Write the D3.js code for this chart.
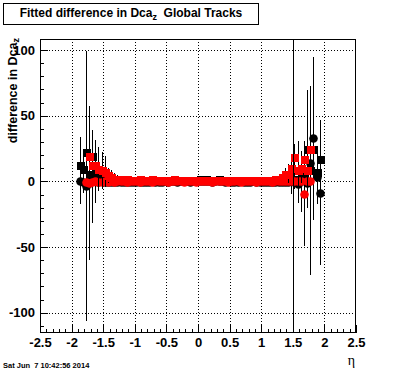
<!DOCTYPE html>
<html>
<head>
	<title>Fitted difference in Dca_z</title>
	<meta charset="utf-8">
	<script src="https://cdn.jsdelivr.net/npm/d3@7"></script>
	<style>
	body{
		margin: 0;
		background: #fff;
	}
	text{
		font-family: "Liberation Sans", Arial, sans-serif;
	}
	</style>
</head>
<body>
<svg id="chart" width="396" height="372"></svg>
<script>

// eta bin centres
var etaBins = [
	-1.875, -1.825, -1.775, -1.725, -1.675, -1.625, -1.575, -1.525, -1.475, -1.425,
	-1.375, -1.325, -1.275, -1.225, -1.175, -1.125, -1.075, -1.025, -0.975, -0.925,
	-0.875, -0.825, -0.775, -0.725, -0.675, -0.625, -0.575, -0.525, -0.475, -0.425,
	-0.375, -0.325, -0.275, -0.225, -0.175, -0.125, -0.075, -0.025, 0.025, 0.075,
	0.125, 0.175, 0.225, 0.275, 0.325, 0.375, 0.425, 0.475, 0.525, 0.575,
	0.625, 0.675, 0.725, 0.775, 0.825, 0.875, 0.925, 0.975, 1.025, 1.075,
	1.125, 1.175, 1.225, 1.275, 1.325, 1.375, 1.425, 1.475, 1.525, 1.575,
	1.625, 1.675, 1.725, 1.775, 1.825, 1.875, 1.925
];

// black squares
var blackSquare = [
	12.5, 9.5, 22.5, 6.0, 19.0, 7.5, 3.0, 2.5, 2.0, 1.8,
	1.6, 1.5, 1.4, 1.3, 1.4, 1.3, 1.2, 1.3, 1.4, 1.3,
	1.2, 1.3, 1.3, 1.2, 1.1, 1.2, 1.3, 1.2, 1.1, 1.2,
	1.2, 1.1, 1.2, 1.1, 1.0, 1.1, 1.2, 1.4, 1.5, 1.4,
	1.5, 1.4, 1.3, 1.4, 1.5, 1.3, 1.0, 0.9, 1.0, 0.9,
	0.8, 0.9, 0.9, 0.8, 0.9, 1.0, 0.9, 0.9, 1.0, 1.0,
	1.1, 1.2, 1.4, 1.6, 1.9, 2.2, 2.5, 2.0, 1.5, 2.0,
	3.0, 5.0, 24.5, 9.0, 24.5, 7.5, 17.0
];
var blackSquareErr = [
	21, 12, 10, 8, 12, 24, 6, 5, 4, 3,
	2.5, 2, 1.5, 1.2, 1, 1, 1, 1, 1, 1,
	1, 1, 1, 1, 1, 1, 1, 1, 1, 1,
	1, 1, 1, 1, 1, 1, 1, 1, 1, 1,
	1, 1, 1, 1, 1, 1, 1, 1, 1, 1,
	1, 1, 1, 1, 1, 1, 1, 1, 1, 1,
	1, 1, 1.5, 2, 2.5, 3, 4, 5, 6, 6,
	8, 10, 45, 12, 15, 12, 10
];

// black circles
var blackCircle = [
	0.0, -0.5, -3.5, -1.0, 3.5, 0.0, -0.5, 0.0, -0.3, -0.2,
	-0.3, -0.4, -0.5, -0.4, -0.3, -0.2, -0.3, -0.2, -0.1, -0.2,
	-0.1, -0.2, -0.1, 0.0, -0.1, -0.2, -0.1, 0.0, -0.1, 0.0,
	0.0, -0.1, 0.0, 0.1, 0.0, -0.1, 0.0, 0.1, 0.0, 0.0,
	0.1, 0.0, -0.1, 0.0, 0.1, 0.0, -0.1, 0.0, -0.1, -0.2,
	-0.1, 0.0, -0.1, -0.2, -0.1, 0.0, -0.1, -0.2, -0.2, -0.1,
	-0.2, -0.3, -0.2, -0.4, -0.3, -0.5, -0.2, 0.0, -0.4, -2.0,
	0.5, 1.0, -1.0, 14.0, 32.7, 3.0, -8.5
];
var blackCircleErr = [
	17, 8, 103, 58.6, 35.5, 6, 5, 4, 3, 2.5,
	2, 1.5, 1.2, 1, 1, 1, 1, 1, 1, 1,
	1, 1, 1, 1, 1, 1, 1, 1, 1, 1,
	1, 1, 1, 1, 1, 1, 1, 1, 1, 1,
	1, 1, 1, 1, 1, 1, 1, 1, 1, 1,
	1, 1, 1, 1, 1, 1, 1, 1, 1, 1,
	1, 1, 1.2, 1.5, 2, 2.5, 3, 4, 5, 14.5,
	8, 10, 15, 56, 62, 20, 55
];

// red squares
var redSquare = [
	null, null, null, 19.5, 12.5, 12.5, 9.5, 8.5, 7.5, 4.5,
	3.5, 2.2, 1.8, 1.6, 1.4, 1.5, 1.4, 1.3, 1.4, 1.5,
	1.4, 1.3, 1.4, 1.5, 1.4, 1.3, 1.4, 1.4, 1.3, 1.4,
	1.5, 1.4, 1.3, 1.4, 1.2, 1.0, 0.9, 0.8, 0.9, 0.8,
	0.9, 0.8, 0.7, 0.8, 0.9, 0.8, 0.7, 0.8, 0.7, 0.8,
	0.9, 0.8, 0.8, 0.7, 0.8, 0.9, 0.8, 0.9, 1.0, 1.1,
	1.2, 1.4, 1.6, 2.2, 3.7, 5.5, 6.0, 10.0, 18.3, 9.0,
	10.5, 17.0, 9.0, 24.5, null, null, null
];
var redSquareErr = [
	0, 0, 0, 6, 8, 8, 16.5, 14, 11.5, 6,
	5, 4, 3, 2, 1.5, 1.2, 1, 1, 1, 1,
	1, 1, 1, 1, 1, 1, 1, 1, 1, 1,
	1, 1, 1, 1, 1, 1, 1, 1, 1, 1,
	1, 1, 1, 1, 1, 1, 1, 1, 1, 1,
	1, 1, 1, 1, 1, 1, 1, 1, 1, 1,
	1, 1.2, 2, 2.5, 3, 5, 7, 8, 10, 22,
	12, 12, 14, 8, 0, 0, 0
];

// red circles
var redCircle = [
	null, null, -0.5, -1.0, -0.5, 0.0, -0.2, -0.1, 0.0, -0.1,
	0.0, -0.1, 0.0, 0.1, 0.0, -0.1, 0.0, 0.1, 0.0, -0.1,
	0.0, 0.1, 0.0, -0.1, 0.0, 0.0, 0.1, 0.0, -0.1, 0.0,
	0.1, 0.0, 0.0, -0.1, 0.0, 0.1, 0.0, -0.1, 0.0, 0.0,
	0.1, 0.0, -0.1, 0.0, 0.0, 0.1, 0.0, -0.1, 0.0, 0.1,
	0.0, -0.1, 0.0, 0.0, 0.1, 0.0, -0.1, 0.0, 0.0, 0.1,
	0.0, -0.1, 0.0, 0.1, 0.2, 0.0, 0.3, 0.5, 0.2, 0.0,
	0.0, -9.5, 0.5, 0.5, null, null, null
];
var redCircleErr = [
	0, 0, 5, 4, 3, 2.5, 2, 1.5, 1.5, 1.2,
	1, 1, 1, 1, 1, 1, 1, 1, 1, 1,
	1, 1, 1, 1, 1, 1, 1, 1, 1, 1,
	1, 1, 1, 1, 1, 1, 1, 1, 1, 1,
	1, 1, 1, 1, 1, 1, 1, 1, 1, 1,
	1, 1, 1, 1, 1, 1, 1, 1, 1, 1,
	0.8, 0.8, 1, 1.5, 2, 3, 4, 10, 6, 8,
	23.5, 40, 10, 72, 0, 0, 0
];

var xMajorTicks = [-2.5, -2, -1.5, -1, -0.5, 0, 0.5, 1, 1.5, 2, 2.5];
var yMajorTicks = [-100, -50, 0, 50, 100];
var cutEta = 1.5;

var titleText = "Fitted difference in Dca";
var yTitleText = "difference in Dca";
var dateText = "Sat Jun  7 10:42:56 2014";

var frame = {left: 40, right: 356, top: 39, bottom: 333};

var svg = d3.select("#chart");

var x = d3.scaleLinear().domain([-2.5, 2.5]).range([frame.left, frame.right]);
var y = d3.scaleLinear().domain([-115.4, 108.4]).range([frame.bottom, frame.top]);

svg.append("rect")
	.attr("width", 396)
	.attr("height", 372)
	.attr("fill", "#fff");

svg.append("clipPath")
	.attr("id", "frameClip")
	.append("rect")
	.attr("x", frame.left)
	.attr("y", frame.top)
	.attr("width", frame.right - frame.left)
	.attr("height", frame.bottom - frame.top);

// dotted grid
var grid = svg.append("g")
	.attr("stroke", "#000")
	.attr("stroke-width", 1)
	.attr("stroke-dasharray", "1,2")
	.attr("shape-rendering", "crispEdges");
grid.selectAll(".gx")
	.data(xMajorTicks.slice(1, -1))
	.enter().append("line")
	.attr("x1", function(d) { return Math.round(x(d)) + 0.5; })
	.attr("x2", function(d) { return Math.round(x(d)) + 0.5; })
	.attr("y1", frame.top)
	.attr("y2", frame.bottom);
grid.selectAll(".gy")
	.data(yMajorTicks)
	.enter().append("line")
	.attr("x1", frame.left)
	.attr("x2", frame.right)
	.attr("y1", function(d) { return Math.round(y(d)) + 0.5; })
	.attr("y2", function(d) { return Math.round(y(d)) + 0.5; });

// axes, ticks pointing into the frame
function styleAxis(g) {
	g.select(".domain").remove();
	g.attr("font-family", "'Liberation Sans', Arial, sans-serif")
		.attr("font-size", 13)
		.attr("font-weight", "bold")
		.attr("shape-rendering", "crispEdges");
}

svg.append("g")
	.attr("transform", "translate(0," + frame.bottom + ")")
	.call(d3.axisBottom(x).tickValues(x.ticks(50)).tickSize(-4).tickFormat(""))
	.call(styleAxis);
svg.append("g")
	.attr("transform", "translate(0," + frame.bottom + ")")
	.call(d3.axisBottom(x).tickValues(xMajorTicks).tickSize(-8).tickPadding(5)
		.tickFormat(function(d) { return String(d); }))
	.call(styleAxis);
svg.append("g")
	.attr("transform", "translate(" + frame.left + ",0)")
	.call(d3.axisLeft(y).tickValues(y.ticks(20)).tickSize(-4).tickFormat(""))
	.call(styleAxis);
svg.append("g")
	.attr("transform", "translate(" + frame.left + ",0)")
	.call(d3.axisLeft(y).tickValues(yMajorTicks).tickSize(-8).tickPadding(5)
		.tickFormat(function(d) { return String(d); }))
	.call(styleAxis);

svg.append("rect")
	.attr("x", frame.left + 0.5)
	.attr("y", frame.top + 0.5)
	.attr("width", frame.right - frame.left - 1)
	.attr("height", frame.bottom - frame.top - 1)
	.attr("fill", "none")
	.attr("stroke", "#000");

var plot = svg.append("g").attr("clip-path", "url(#frameClip)");

// one graph: black error bars then the markers
function drawSeries(values, errors, color, shape) {
	var points = etaBins.map(function(eta, i) {
		return {eta: eta, v: values[i], e: errors[i]};
	}).filter(function(d) { return d.v !== null; });

	var g = plot.append("g");
	g.selectAll("line")
		.data(points.filter(function(d) { return d.e > 0; }))
		.enter().append("line")
		.attr("x1", function(d) { return Math.round(x(d.eta)) + 0.5; })
		.attr("x2", function(d) { return Math.round(x(d.eta)) + 0.5; })
		.attr("y1", function(d) { return y(d.v + d.e); })
		.attr("y2", function(d) { return y(d.v - d.e); })
		.attr("stroke", "#000")
		.attr("stroke-width", 1)
		.attr("shape-rendering", "crispEdges");

	if (shape == "square") {
		g.selectAll("rect")
			.data(points)
			.enter().append("rect")
			.attr("x", function(d) { return Math.round(x(d.eta)) - 3.5; })
			.attr("y", function(d) { return Math.round(y(d.v)) - 3.5; })
			.attr("width", 8)
			.attr("height", 8)
			.attr("fill", color)
			.attr("shape-rendering", "crispEdges");
	} else {
		g.selectAll("circle")
			.data(points)
			.enter().append("circle")
			.attr("cx", function(d) { return Math.round(x(d.eta)) + 0.5; })
			.attr("cy", function(d) { return Math.round(y(d.v)) + 0.5; })
			.attr("r", 4.3)
			.attr("fill", color);
	}
}

drawSeries(blackSquare, blackSquareErr, "#000", "square");
drawSeries(blackCircle, blackCircleErr, "#000", "circle");
drawSeries(redCircle, redCircleErr, "#ff0000", "circle");
drawSeries(redSquare, redSquareErr, "#ff0000", "square");

// cut line at eta = 1.5
svg.append("line")
	.attr("x1", Math.round(x(cutEta)) + 0.5)
	.attr("x2", Math.round(x(cutEta)) + 0.5)
	.attr("y1", frame.top)
	.attr("y2", frame.bottom)
	.attr("stroke", "#000")
	.attr("stroke-width", 1)
	.attr("shape-rendering", "crispEdges");

// title box
svg.append("rect")
	.attr("x", 3.5)
	.attr("y", 3.5)
	.attr("width", 255)
	.attr("height", 21)
	.attr("fill", "#fff")
	.attr("stroke", "#000");
var title = svg.append("text")
	.attr("x", 131)
	.attr("y", 17)
	.attr("text-anchor", "middle")
	.attr("font-size", 12)
	.attr("font-weight", "bold")
	.style("white-space", "pre");
title.append("tspan").text(titleText);
title.append("tspan").attr("font-size", 9).attr("dy", 3).text("z");
title.append("tspan").attr("dy", -3).text("  Global Tracks");

// axis titles
var yTitle = svg.append("text")
	.attr("transform", "translate(17,38) rotate(-90)")
	.attr("text-anchor", "end")
	.attr("font-size", 12.5)
	.attr("font-weight", "bold");
yTitle.append("tspan").text(yTitleText);
yTitle.append("tspan").attr("font-size", 9).attr("dy", 2).text("z");

svg.append("text")
	.attr("x", 355)
	.attr("y", 365)
	.attr("text-anchor", "end")
	.style("font-family", "'Liberation Serif', serif")
	.attr("font-size", 14)
	.text("\u03b7");

svg.append("text")
	.attr("x", 3)
	.attr("y", 368)
	.attr("font-size", 7.5)
	.attr("font-weight", "bold")
	.style("white-space", "pre")
	.text(dateText);

</script>
</body>
</html>
